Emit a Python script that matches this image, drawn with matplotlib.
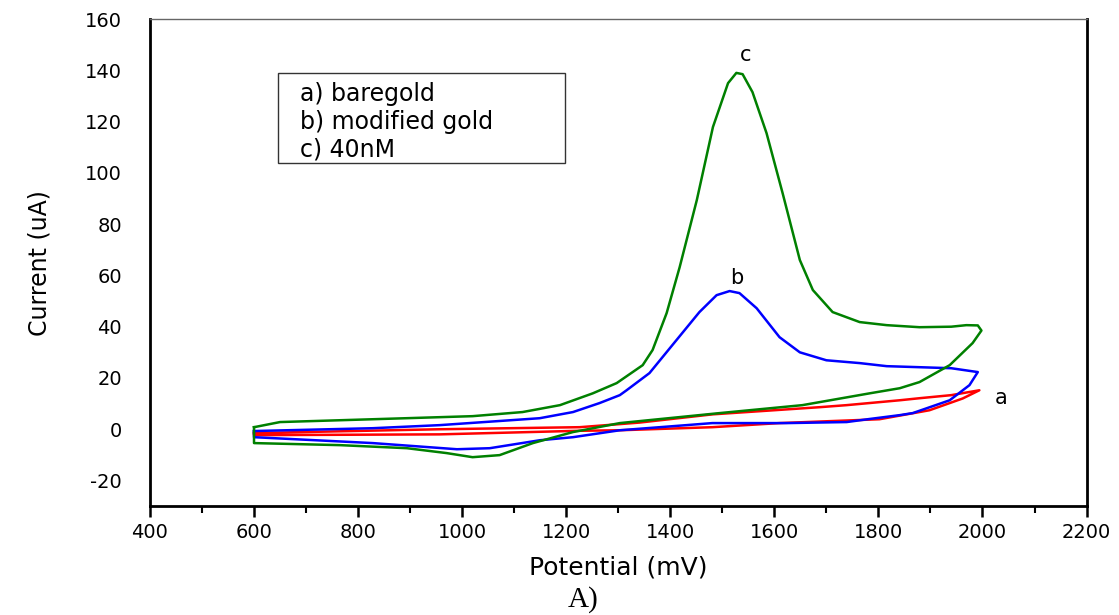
import matplotlib.pyplot as plt
from matplotlib.patches import Rectangle
from matplotlib.ticker import MultipleLocator

plt.rcParams['axes.unicode_minus'] = False

# cyclic voltammograms (forward scan then reverse, closed loop)
a_x = [600, 957, 1226, 1303, 1341, 1481, 1687, 1739, 1841, 1879, 1940, 1994,
       1962, 1898, 1802, 1610, 1481, 1303, 1226, 957, 600, 600]
a_y = [-1.5, 0.0, 0.8, 2.0, 2.6, 5.8, 8.6, 9.4, 11.3, 12.1, 13.3, 15.2,
       12.0, 7.4, 3.9, 2.4, 0.8, -0.4, -0.6, -2.0, -2.3, -1.5]

b_x = [600, 828, 957, 1149, 1213, 1264, 1303, 1316, 1360, 1412, 1456, 1489,
       1514, 1533, 1566, 1610, 1649, 1700, 1764, 1816, 1879, 1940, 1991,
       1975, 1937, 1866, 1841, 1783, 1739, 1624, 1481, 1431, 1303, 1213, 1149,
       1053, 990, 828, 600, 600]
b_y = [-0.7, 0.4, 1.6, 4.3, 6.7, 10.2, 13.3, 15.2, 21.9, 34.8, 45.7, 52.3,
       53.9, 53.1, 47.2, 35.9, 30.0, 26.9, 25.8, 24.6, 24.2, 23.8, 22.3,
       17.2, 11.3, 6.3, 5.5, 4.0, 2.8, 2.4, 2.4, 1.6, -0.4, -3.1, -4.3,
       -7.4, -7.8, -5.4, -3.1, -0.7]

c_x = [600, 650, 828, 1020, 1116, 1188, 1251, 1297, 1347, 1366, 1393, 1418,
       1451, 1482, 1511, 1527, 1539, 1558, 1585, 1616, 1649, 1674, 1712, 1764,
       1816, 1879, 1940, 1969, 1991, 1998,
       1981, 1937, 1879, 1841, 1783, 1654, 1495, 1303, 1213, 1136, 1072, 1020,
       970, 894, 765, 620, 600, 600]
c_y = [0.8, 2.8, 3.9, 5.1, 6.7, 9.4, 14.0, 18.0, 25.0, 30.9, 45.3, 63.2,
       89.4, 117.9, 135.0, 139.0, 138.5, 131.5, 115.5, 92.0, 66.0, 54.3, 45.7, 41.8,
       40.6, 39.8, 40.0, 40.6, 40.5, 38.5,
       33.6, 25.0, 18.4, 16.0, 14.0, 9.4, 6.3, 2.4, -1.1, -5.4, -10.1, -10.9,
       -9.3, -7.4, -6.2, -5.5, -5.4, 0.8]

legend_lines = ['a) baregold', 'b) modified gold', 'c) 40nM']

fig = plt.figure(figsize=(11.19, 6.15), dpi=100)
ax = fig.add_axes([0.134, 0.177, 0.837, 0.792])

ax.plot(a_x, a_y, color='#ff0000', lw=1.8)
ax.plot(b_x, b_y, color='#0000ff', lw=1.8)
ax.plot(c_x, c_y, color='#008000', lw=1.8)

ax.set_xlim(400, 2200)
ax.set_ylim(-30, 160)
ax.xaxis.set_major_locator(MultipleLocator(200))
ax.xaxis.set_minor_locator(MultipleLocator(100))
ax.yaxis.set_major_locator(MultipleLocator(20))

ax.tick_params(axis='x', which='major', direction='out', length=8, width=1.8,
               labelsize=14, pad=4)
ax.tick_params(axis='x', which='minor', direction='out', length=5, width=1.5)
ax.tick_params(axis='y', length=0, labelsize=14, pad=20)

for s in ['left', 'bottom', 'right']:
    ax.spines[s].set_linewidth(2)
    ax.spines[s].set_color('black')
ax.spines['top'].set_linewidth(1)
ax.spines['top'].set_color('#666666')

ax.set_xlabel('Potential (mV)', fontsize=18, labelpad=10)
ax.set_ylabel('Current (uA)', fontsize=17, labelpad=24)

ax.text(1545, 142, 'c', fontsize=15, ha='center', va='bottom')
ax.text(1528, 55, 'b', fontsize=15, ha='center', va='bottom')
ax.text(2035, 12, 'a', fontsize=15, ha='center', va='center')

ax.add_patch(Rectangle((0.1366, 0.704), 0.307, 0.185, transform=ax.transAxes,
                       fc='white', ec='#333333', lw=1, zorder=3))
ax.text(0.160, 0.870, '\n'.join(legend_lines), transform=ax.transAxes,
        fontsize=17, va='top', ha='left', linespacing=1.2, zorder=4)

fig.text(0.521, 0.003, 'A)', fontsize=21, family='Liberation Serif',
         ha='center', va='bottom')

fig.savefig('out.png', dpi=100)
